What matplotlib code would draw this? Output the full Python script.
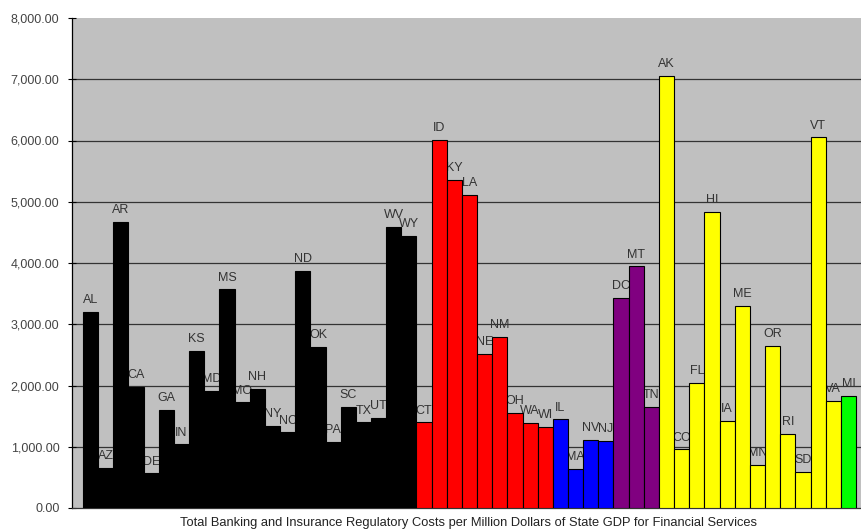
import numpy as np
import matplotlib.pyplot as plt
from matplotlib.ticker import FuncFormatter

plt.rcParams["font.family"] = ["Liberation Sans", "DejaVu Sans"]

# states grouped by colour, in plotting order
black_states = ["AL", "AZ", "AR", "CA", "DE", "GA", "IN", "KS", "MD", "MS", "MO",
                "NH", "NY", "NC", "ND", "OK", "PA", "SC", "TX", "UT", "WV", "WY"]
black_vals = [3205, 658, 4674, 1980, 566, 1600, 1040, 2568, 1910, 3570, 1725,
              1943, 1339, 1235, 3870, 2634, 1078, 1654, 1400, 1475, 4593, 4441]

red_states = ["CT", "ID", "KY", "LA", "NE", "NM", "OH", "WA", "WI"]
red_vals = [1400, 6008, 5355, 5115, 2514, 2792, 1556, 1388, 1322]

blue_states = ["IL", "MA", "NV", "NJ"]
blue_vals = [1448, 642, 1110, 1094]

purple_states = ["DC", "MT", "TN"]
purple_vals = [3429, 3946, 1654]

yellow_states = ["AK", "CO", "FL", "HI", "IA", "ME", "MN", "OR", "RI", "SD", "VT", "VA"]
yellow_vals = [7058, 958, 2046, 4833, 1426, 3303, 702, 2645, 1213, 593, 6052, 1752]

green_states = ["MI"]
green_vals = [1834]

groups = [
    (black_states, black_vals, "#000000"),
    (red_states, red_vals, "#FF0000"),
    (blue_states, blue_vals, "#0000FF"),
    (purple_states, purple_vals, "#800080"),
    (yellow_states, yellow_vals, "#FFFF00"),
    (green_states, green_vals, "#00FF00"),
]

xlabel = "Total Banking and Insurance Regulatory Costs per Million Dollars of State GDP for Financial Services"
yticks = np.arange(0, 8001, 1000)

fig = plt.figure(figsize=(8.62, 5.31), dpi=100)
ax = fig.add_axes([72 / 862, 23 / 531, 790 / 862, 490 / 531])
ax.set_facecolor("#C0C0C0")

pos = 0
for states, vals, color in groups:
    x = np.arange(pos, pos + len(vals))
    ax.bar(x, vals, width=1.0, align="edge", color=color, edgecolor="black",
           linewidth=0.8, zorder=3)
    for xi, v, s in zip(x, vals, states):
        ax.annotate(s, (xi + 0.5, v), xytext=(0, 4), textcoords="offset points",
                    ha="center", va="bottom", fontsize=9, color="#333333", zorder=2)
    pos += len(vals)

for yv in yticks[1:-1]:
    ax.axhline(yv, color="#333333", linewidth=0.9, zorder=1)

ax.set_xlim(-0.726, pos + 0.396)
ax.set_ylim(0, 8000)
ax.set_yticks(yticks)
ax.yaxis.set_major_formatter(FuncFormatter(lambda v, p: f"{v:,.2f}"))
ax.tick_params(axis="y", direction="inout", length=6, width=0.8, labelsize=9,
               labelcolor="#444444", pad=6)
ax.set_xticks([])
ax.spines["top"].set_visible(False)
ax.spines["right"].set_visible(False)
ax.spines["left"].set_linewidth(0.9)
ax.spines["bottom"].set_linewidth(0.9)
ax.spines["bottom"].set_color("#333333")

fig.text(469 / 862, 1 - 523 / 531, xlabel, ha="center", va="center",
         fontsize=9.3, color="#222222")

plt.savefig("out.png", dpi=100)
